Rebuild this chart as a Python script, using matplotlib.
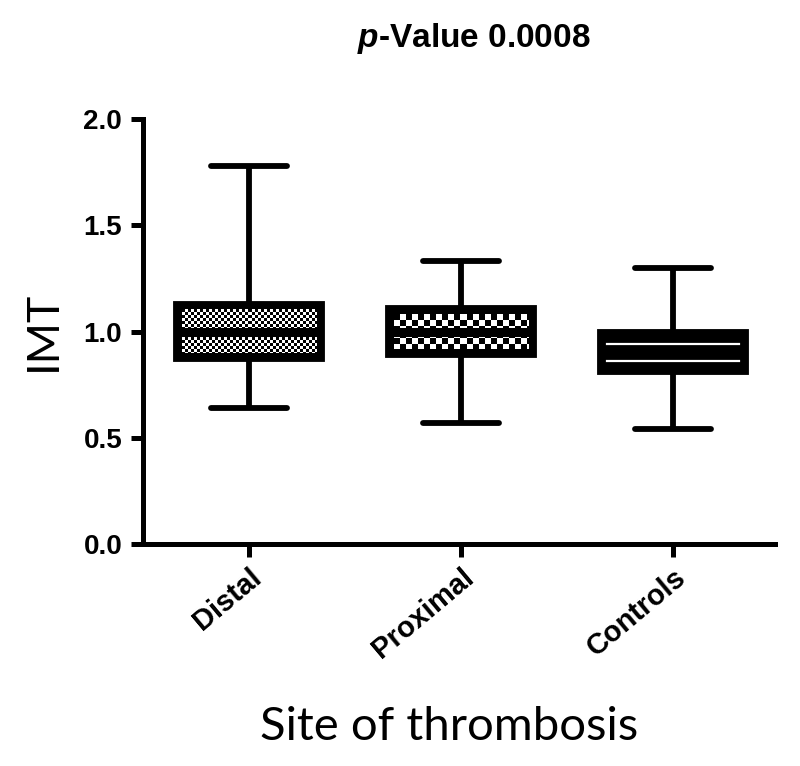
import numpy as np
import matplotlib
matplotlib.use("Agg")
import matplotlib.pyplot as plt

groups = ["Distal", "Proximal", "Controls"]
whislo = [0.64, 0.57, 0.54]
q1 = [0.87, 0.89, 0.81]
med = [1.00, 1.00, 0.90]
q3 = [1.13, 1.11, 1.00]
whishi = [1.78, 1.33, 1.30]
y_ticks = [0.0, 0.5, 1.0, 1.5, 2.0]

plt.rcParams["mathtext.fontset"] = "custom"
plt.rcParams["mathtext.it"] = "Liberation Sans:italic:bold"

fig = plt.figure(figsize=(8.0, 7.66), dpi=100)
ax = fig.add_axes([143 / 800, 1 - 544 / 766, (775 - 143) / 800, (544 - 119) / 766])

positions = np.arange(1, len(groups) + 1)
box_w = 0.69
stats = [
    dict(whislo=lo, q1=a, med=m, q3=b, whishi=hi, fliers=[], label=g)
    for g, lo, a, m, b, hi in zip(groups, whislo, q1, med, q3, whishi)
]
lw = 4.2
ax.bxp(
    stats, positions=positions, widths=box_w, patch_artist=True,
    showfliers=False, capwidths=0.36,
    boxprops=dict(facecolor="black", edgecolor="black", linewidth=lw),
    whiskerprops=dict(color="black", linewidth=lw, solid_capstyle="butt"),
    capprops=dict(color="black", linewidth=lw, solid_capstyle="round"),
    medianprops=dict(color="black", linewidth=6.5, solid_capstyle="butt", zorder=4),
)

# checker fills inside the first two boxes
px_x, px_y = 212.0, 212.5
inset = 6.0
for pos, a, b, cell in zip(positions[:2], q1[:2], q3[:2], [3.0, 6.0]):
    x0 = pos - box_w / 2 + inset / px_x
    x1 = pos + box_w / 2 - inset / px_x
    y0 = a + inset / px_y
    y1 = b - inset / px_y
    nx = int(round((x1 - x0) * px_x))
    ny = int(round((y1 - y0) * px_y))
    jj, ii = np.meshgrid(np.arange(nx), np.arange(ny))
    pat = (np.floor(ii / cell) + np.floor(jj / cell)) % 2
    ax.imshow(pat, cmap="gray", vmin=0, vmax=1, extent=(x0, x1, y0, y1),
              aspect="auto", interpolation="nearest", zorder=3)

# two white lines in the controls box
pc = positions[2]
for off in (0.04, -0.04):
    ax.plot([pc - box_w / 2 + 7 / px_x, pc + box_w / 2 - 7 / px_x],
            [med[2] + off, med[2] + off], color="white", linewidth=1.6, zorder=4)

ax.set_xlim(0.5, 3.48)
ax.set_ylim(0, 2.0)
ax.set_yticks(y_ticks)
ax.set_yticklabels([f"{v:.1f}" for v in y_ticks])
ax.set_xticks(positions)
ax.set_xticklabels(groups, rotation=40, ha="right", va="top", rotation_mode="anchor")

for side in ("top", "right"):
    ax.spines[side].set_visible(False)
for side in ("left", "bottom"):
    ax.spines[side].set_linewidth(3.6)
    ax.spines[side].set_capstyle("projecting")
ax.tick_params(axis="y", length=9, width=3.6, pad=6, direction="out")
ax.tick_params(axis="x", length=9, width=3.6, pad=5, direction="out")
for lab in ax.get_yticklabels():
    lab.set_fontfamily("Liberation Sans")
    lab.set_fontweight("bold")
    lab.set_fontsize(20)
for lab in ax.get_xticklabels():
    lab.set_fontfamily("Liberation Sans")
    lab.set_fontweight("bold")
    lab.set_fontsize(21)

fig.text(474 / 800, 1 - 38 / 766, r"$\it{p}$-Value 0.0008", ha="center", va="center",
         fontfamily="Liberation Sans", fontweight="bold", fontsize=24)
fig.text(43 / 800, 1 - 331 / 766, "IMT", rotation=90, ha="center", va="center",
         fontfamily="Lato", fontsize=32)
fig.text(449 / 800, 1 - 727 / 766, "Site of thrombosis", ha="center", va="center",
         fontfamily="Lato", fontsize=34)

fig.savefig("out.png", dpi=100, facecolor="white")
